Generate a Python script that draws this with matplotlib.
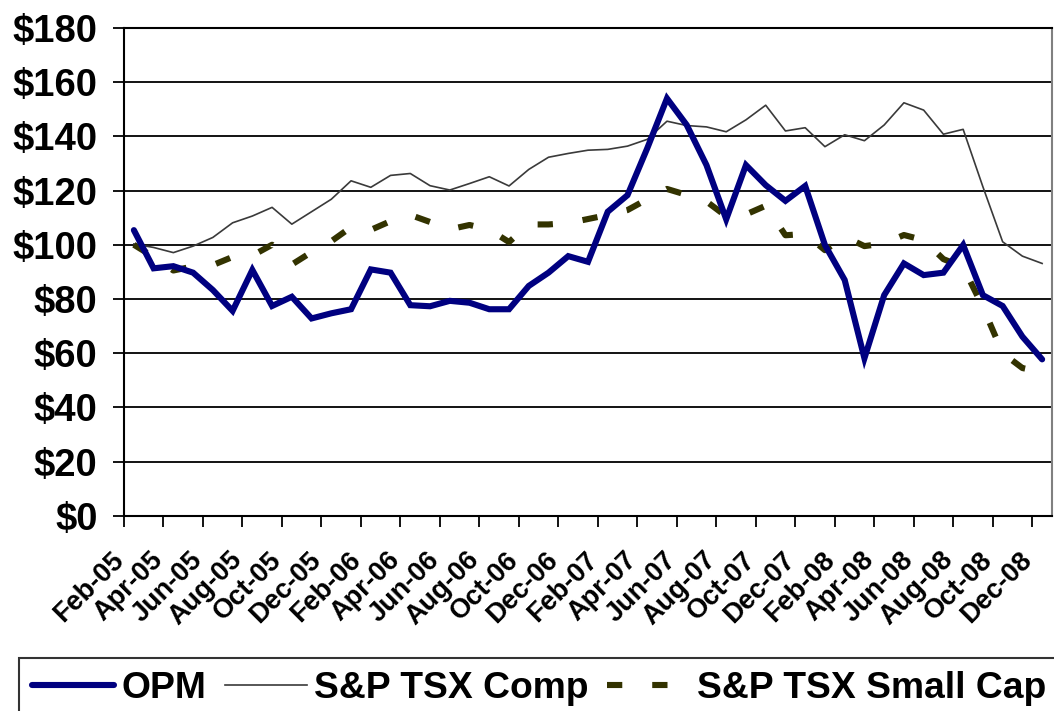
import matplotlib
matplotlib.use("Agg")
import matplotlib.pyplot as plt
from matplotlib.ticker import FixedLocator, FuncFormatter
from matplotlib.transforms import ScaledTranslation

plt.rcParams['font.family'] = ['Liberation Sans', 'DejaVu Sans']

months = ["Feb-05", "Mar-05", "Apr-05", "May-05", "Jun-05", "Jul-05", "Aug-05", "Sep-05",
          "Oct-05", "Nov-05", "Dec-05", "Jan-06", "Feb-06", "Mar-06", "Apr-06", "May-06",
          "Jun-06", "Jul-06", "Aug-06", "Sep-06", "Oct-06", "Nov-06", "Dec-06", "Jan-07",
          "Feb-07", "Mar-07", "Apr-07", "May-07", "Jun-07", "Jul-07", "Aug-07", "Sep-07",
          "Oct-07", "Nov-07", "Dec-07", "Jan-08", "Feb-08", "Mar-08", "Apr-08", "May-08",
          "Jun-08", "Jul-08", "Aug-08", "Sep-08", "Oct-08", "Nov-08", "Dec-08"]

opm = [105.4, 91.3, 92.1, 89.7, 83.3, 75.6, 90.7, 77.4, 80.8, 72.8, 74.7, 76.2,
       90.9, 89.7, 77.7, 77.3, 79.3, 78.6, 76.2, 76.2, 84.8, 89.7, 95.8, 93.7,
       112.2, 118.3, 135.6, 154.0, 144.2, 129.4, 109.4, 129.4, 122.0, 116.2, 121.7, 99.9,
       87.0, 58.1, 81.4, 93.1, 88.8, 89.7, 99.9, 81.4, 77.4, 66.1, 57.7]

tsx_comp = [100.3, 99.0, 97.1, 99.5, 102.7, 108.1, 110.6, 113.8, 107.6, 112.2, 116.8, 123.6,
            121.2, 125.6, 126.3, 121.8, 120.2, 122.6, 125.1, 121.7, 127.8, 132.3, 133.7, 134.9,
            135.2, 136.4, 138.9, 145.6, 144.0, 143.5, 141.7, 146.1, 151.5, 142.0, 143.2, 136.2,
            140.6, 138.4, 144.2, 152.4, 149.7, 140.8, 142.6, 121.4, 101.1, 95.8, 93.1]

tsx_small = [100.0, 95.5, 90.5, 92.0, 92.5, 95.5, 96.0, 100.0, 92.7, 97.3, 101.3, 106.5,
             105.5, 108.7, 111.0, 108.4, 105.7, 107.3, 105.6, 101.0, 107.5, 107.5, 108.0, 109.5,
             111.0, 112.8, 116.8, 120.6, 118.4, 116.0, 110.5, 111.2, 114.4, 103.5, 104.0, 98.0,
             103.0, 99.5, 100.5, 103.6, 101.7, 94.7, 91.8, 77.0, 60.0, 54.5, 53.0]

series_names = ["OPM", "S&P TSX Comp", "S&P TSX Small Cap"]
y_ticks = [0, 20, 40, 60, 80, 100, 120, 140, 160, 180]

fig = plt.figure(figsize=(10.54, 7.11), dpi=100)
ax = fig.add_axes([124 / 1054, 1 - 515.7 / 711, (1052 - 124) / 1054, (515.7 - 28) / 711])

x = list(range(len(months)))
l1, = ax.plot(x, opm, color="#000080", lw=4.4, solid_joinstyle="miter",
              solid_capstyle="round", zorder=4, label=series_names[0])
l2, = ax.plot(x, tsx_comp, color="#3a3a3a", lw=1.2, zorder=3, label=series_names[1])
l3, = ax.plot(x, tsx_small, color="#333300", lw=4.4, zorder=3, label=series_names[2],
              dashes=(2.5, 4.9), dash_capstyle="butt")

ax.set_xlim(-0.5, len(months) - 0.5)
ax.set_ylim(0, 180)

ax.yaxis.set_major_locator(FixedLocator(y_ticks))
ax.yaxis.set_major_formatter(FuncFormatter(lambda v, p: f"${int(v)}"))
ax.grid(axis="y", color="black", lw=1.3, zorder=1)
ax.tick_params(axis="y", direction="out", length=8, width=1.3, labelsize=27.5, pad=11)
for t in ax.get_yticklabels():
    t.set_fontweight("bold")

# x ticks at category boundaries every 2 months, labels at category centers
ax.xaxis.set_major_locator(FixedLocator([i - 0.5 for i in range(0, len(months), 2)]))
ax.xaxis.set_major_formatter(FuncFormatter(lambda v, p: ""))
ax.xaxis.set_minor_locator(FixedLocator(list(range(0, len(months), 2))))
ax.set_xticklabels([months[i] for i in range(0, len(months), 2)], minor=True)
ax.tick_params(axis="x", which="major", direction="out", length=8, width=1.3)
ax.tick_params(axis="x", which="minor", length=0, pad=29, labelsize=19.5)
offset = ScaledTranslation(-14 / 100, 0, fig.dpi_scale_trans)
for t in ax.get_xticklabels(minor=True):
    t.set_rotation(45)
    t.set_rotation_mode("anchor")
    t.set_ha("right")
    t.set_va("center")
    t.set_fontweight("bold")
    t.set_transform(t.get_transform() + offset)

for s in ["left", "bottom", "top"]:
    ax.spines[s].set_color("black")
    ax.spines[s].set_linewidth(1.5)
ax.spines["right"].set_color("#808080")
ax.spines["right"].set_linewidth(1.5)

leg = fig.legend(handles=[l1, l2, l3], loc="upper left",
                 bbox_to_anchor=(19 / 1054, 1 - 658 / 711), ncol=3,
                 prop={"size": 26.8, "weight": "bold"}, frameon=True, fancybox=False,
                 handlelength=2.2, handletextpad=0.2, columnspacing=0.5,
                 borderpad=0.35, borderaxespad=0)
leg.get_frame().set_edgecolor("black")
leg.get_frame().set_linewidth(1.5)

fig.savefig("out.png", dpi=100)
